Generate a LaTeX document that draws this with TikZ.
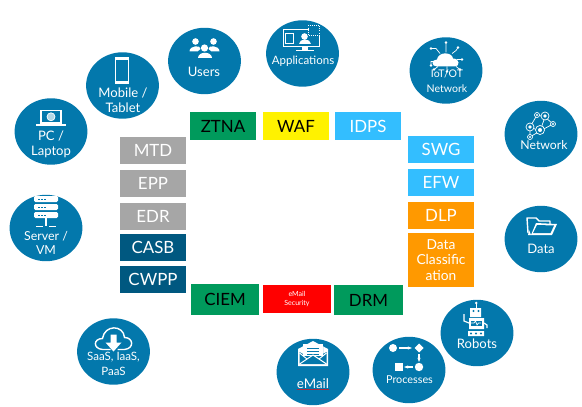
\documentclass[tikz,border=0pt]{standalone}
\usepackage{fontspec}
\setmainfont{Lato}
\usepackage{tikz}
\usetikzlibrary{arrows.meta,positioning,calc,shapes.geometric}
\usepackage{xcolor}
\definecolor{disc}{RGB}{3,120,172}
\definecolor{slate}{RGB}{166,166,166}
\definecolor{navy}{RGB}{0,88,128}
\definecolor{leaf}{RGB}{0,154,92}
\definecolor{sky}{RGB}{51,190,255}
\definecolor{amber}{RGB}{255,153,0}
\tikzset{
asset/.style={ellipse,fill=disc,minimum width=1.82cm,minimum height=1.66cm,inner sep=0pt},
assetlab/.style={text=white,align=center,font=\fontsize{#1}{10.5}\selectfont,inner sep=0pt},
assetlab/.default=9.3,
ctrl/.style={minimum width=1.65cm,minimum height=0.68cm,inner sep=0pt,font=\fontsize{12}{14}\selectfont},
ico/.style={draw=white,line width=0.5pt},
}
\begin{document}
\begin{tikzpicture}[x=0.025cm,y=-0.025cm]
\useasboundingbox (0,0) rectangle (582,406);
% discs
\foreach \name/\x/\y in {users/204.5/61,apps/302.5/53.5,mobile/122.5/85.5,pc/51/131.5,server/46/228,saas/113.5/351.5,mail/313/372,proc/409/370,robots/477/333,data/541/239,net/541/134,iot/446/70.5}{
\node[asset] (\name) at (\x,\y){};
}
% labels on discs
\node[assetlab] (usersl) at (204,72){Users};
\node[assetlab=8.2] (appsl) at (303,61){Applications};
\node[assetlab] (mobilel) at (123,100.5){Mobile /\\Tablet};
\node[assetlab] (pcl) at (51,144){PC /\\Laptop};
\node[assetlab=8.8] (serverl) at (46,243){Server /\\VM};
\node[assetlab=8.2] (saasl) at (113.5,364){SaaS, IaaS,\\PaaS};
\node[assetlab=9.5] (maill) at (313,384){eMail};
\node[assetlab=7.7] (procl) at (409.5,380){Processes};
\node[assetlab] (robotsl) at (477,344){Robots};
\node[assetlab] (datal) at (541,249){Data};
\node[assetlab=8.7] (netl) at (544,145){Network};
\node[assetlab=7.5] (iotl) at (447,81){IoT/OT\\Network};
\draw[red!65!disc,line width=0.35pt] (297,389)--(329,389);
% boxes
\foreach \name/\y/\fillc/\lab in {mtd/150.5/slate/MTD,epp/183.5/slate/EPP,edr/216.5/slate/EDR,casb/247.5/navy/CASB,cwpp/279.5/navy/CWPP}{
\node[ctrl,fill=\fillc,text=white] (\name) at (153,\y){\lab};
}
\foreach \name/\y/\fillc/\lab in {swg/149.5/sky/SWG,efw/182.5/sky/EFW,dlp/215.5/amber/DLP}{
\node[ctrl,fill=\fillc,text=white] (\name) at (441,\y){\lab};
}
\node[ctrl,fill=amber,text=white,minimum height=1.35cm,align=center,font=\fontsize{9.8}{11}\selectfont] (class) at (441,260){Data\\Classific\\ation};
\node[ctrl,fill=leaf,text=black] (ztna) at (223,126){ZTNA};
\node[ctrl,fill=yellow,text=black] (waf) at (296,126){WAF};
\node[ctrl,fill=sky,text=white] (idps) at (368,126){IDPS};
\node[ctrl,fill=leaf,text=black,minimum width=1.7cm,minimum height=0.76cm] (ciem) at (225,299.5){CIEM};
\node[ctrl,fill=red,text=white,minimum width=1.7cm,minimum height=0.7cm,align=center,font=\fontsize{5}{6}\selectfont] (sec) at (297,299){eMail\\Security};
\node[ctrl,fill=leaf,text=black,minimum width=1.7cm,minimum height=0.76cm] (drm) at (368.5,300){DRM};
% users
\begin{scope}[shift={(users.center)}]
\fill[white] (-9,-19.5) circle (3.3) (9,-19.5) circle (3.3) (0,-13) circle (3.6);
\fill[white] (-15,-9.5) .. controls (-15,-16) and (-3,-16) .. (-4,-12) -- (-7,-9.5) -- cycle;
\fill[white] (15,-9.5) .. controls (15,-16) and (3,-16) .. (4,-12) -- (7,-9.5) -- cycle;
\fill[white] (-7,-3) .. controls (-7,-10) and (7,-10) .. (7,-3) -- cycle;
\end{scope}
% mobile
\draw[ico,line width=0.8pt] (115.5,57.5) rectangle (128.5,83.5);
\fill[white] (115,57) rectangle (129,60);
\fill[white] (115,81.5) rectangle (129,84);
% pc
\draw[ico,line width=0.8pt] (41,110.5) rectangle (61,123);
\draw[ico,fill=white!70!disc] (51,116.8) circle (4);
\fill[white] (36,124.5) rectangle (65.5,126.5);
% server
\foreach \sy in {196,204,212}{
\fill[white,rounded corners=1pt] (34,\sy) rectangle (58,\sy+6);
\foreach \sx in {38,41,44}{\fill[disc] (\sx,\sy+2.5) rectangle (\sx+1.5,\sy+3.5);}
}
\draw[ico,line width=0.9pt] (46,218)--(46,226) (36,226.5)--(43,226.5) (49,226.5)--(56,226.5);
% apps
\begin{scope}[shift={(apps.center)}]
\draw[ico,line width=0.8pt] (-19,-24) rectangle (17,-7);
\fill[white] (2,-17) circle (3.3);
\fill[white] (-4,-9) .. controls (-4,-15) and (8,-15) .. (8,-9) -- cycle;
\draw[ico,fill=disc] (-17,-20) rectangle (-9,-10);
\draw[ico,densely dotted,fill=disc] (6,-28) rectangle (17,-18);
\fill[white] (-1,-7) rectangle (5,-3.5);
\fill[white] (-7,-3.5) rectangle (11,-2);
\end{scope}
% saas
\begin{scope}[shift={(saas.center)}]
\draw[ico,line width=1pt] (-3,-2) -- (-11,-2) .. controls (-21,-3) and (-20,-13) .. (-11,-13) .. controls (-9,-27) and (10,-27) .. (11,-14) .. controls (20,-14) and (21,-3) .. (11,-2) -- (4,-2);
\fill[white] (-3,-17) rectangle (3,-9) (-8,-9) -- (8,-9) -- (0,0) -- cycle;
\end{scope}
% iot
\begin{scope}[shift={(iot.center)}]
\fill[white] (-9,-4) .. controls (-15,-4) and (-15,-11) .. (-9,-11) .. controls (-8,-19) and (6,-19) .. (7,-12) .. controls (14,-12) and (14,-4) .. (9,-4) -- cycle;
\draw[ico] (0,-18)--(0,-28) (-6,-17)--(-10,-22)--(-15,-22) (6,-17)--(10,-20)--(12,-23) (11,-11)--(16,-11) (-11,-9)--(-15,-9)--(-15,-5) (10,-4)--(14,-1) (-8,-4)--(-12,-1) (1,-4)--(1,1);
\foreach \px/\py in {0/-28,-15/-22,12/-23,16/-11,-15/-5,14/-1,-12/-1,1/1}{\fill[white] (\px,\py) circle (1.3);}
\end{scope}
% network
\begin{scope}[shift={(net.center)}]
\draw[ico] (-11,-7)--(-4,-19)--(4,-17)--(-1,-3)--(-11,-7) (4,-17)--(12,-10)--(-1,-3)--(-11,3)--(-11,-7) (12,-10)--(4,-17);
\foreach \px/\py/\pr in {-4/-19/2.5,4/-18/4,-11/-7/4,12/-10/2.5,-1/-4/4.5,-11/3/2.5}{
\draw[ico,fill=disc] (\px,\py) circle (\pr);
\fill[white] (\px,\py) circle (\pr*0.45);
}
\end{scope}
% data
\begin{scope}[shift={(data.center)}]
\draw[ico,line width=1pt,line join=round] (-13,-6) -- (-14,-21) -- (-5,-21) -- (-2,-18) -- (9,-18) -- (9,-15);
\fill[white] (-10,-4) -- (-5,-16) -- (16,-15) -- (11,-4) -- cycle;
\fill[disc] (-8,-6) -- (-4,-14) -- (13,-13.5) -- (9.5,-6) -- cycle;
\fill[white] (-13,-4) -- (-12,-9) -- (-10,-4) -- cycle;
\end{scope}
% robots
\begin{scope}[shift={(robots.center)},yshift=0.05cm]
\fill[white] (-7,-23) rectangle (4,-14) (-8,-13) rectangle (7,-2) (-9,0) rectangle (7,5);
\fill[white] (-1.5,-27) rectangle (0,-23);
\fill[white] (-0.8,-28) circle (1.4);
\fill[disc] (-3.5,-20) circle (1.1) (1.5,-20) circle (1.1);
\fill[disc] (-6,-10.5) rectangle (5,-5);
\draw[ico] (-6,-8)--(-3,-8)--(-1.5,-10)--(0,-6)--(1.5,-8)--(4,-8);
\draw[ico,line width=0.8pt] (-8,-8)--(-13,-10)--(-13,-17) (7,-8)--(10,-6)--(10,-3);
\foreach \px in {-6,-1,4}{\fill[disc] (\px,2.5) circle (1.1);}
\end{scope}
% processes
\begin{scope}[shift={(proc.center)}]
\fill[white] (-16,-22) circle (4);
\fill[white] (10,-26.5) -- (14.5,-22) -- (10,-17.5) -- (5.5,-22) -- cycle;
\fill[white] (-14,-7) rectangle (-6,1);
\fill[white] (10,-3) circle (4.2);
\draw[ico,line width=0.8pt,-{Stealth[length=3pt]}] (-10,-22)--(3,-22);
\draw[ico,line width=0.8pt,-{Stealth[length=3pt]}] (10,-16)--(10,-8);
\draw[ico,line width=0.8pt,-{Stealth[length=3pt]}] (4,-3)--(-5,-3);
\end{scope}
% email
\begin{scope}[shift={(mail.center)}]
\fill[white] (-15,-6) -- (-15,-23) -- (0,-31) -- (15,-23) -- (15,-6) -- cycle;
\fill[disc] (-13.5,-20) -- (-10,-18) -- (-10,-28) -- (10,-28) -- (10,-18) -- (13.5,-20) -- (13.5,-8) -- (-13.5,-8) -- cycle;
\fill[white] (-10,-28) rectangle (10,-16);
\draw[disc,line width=0.6pt] (-6,-24)--(6,-24) (-6,-21)--(6,-21) (-6,-18)--(6,-18);
\draw[white,line width=0.7pt] (-13.5,-8) -- (0,-17) -- (13.5,-8);
\draw[white,line width=0.7pt] (-13.5,-19) -- (-6,-13) (13.5,-19) -- (6,-13);
\end{scope}
\end{tikzpicture}
\end{document}
